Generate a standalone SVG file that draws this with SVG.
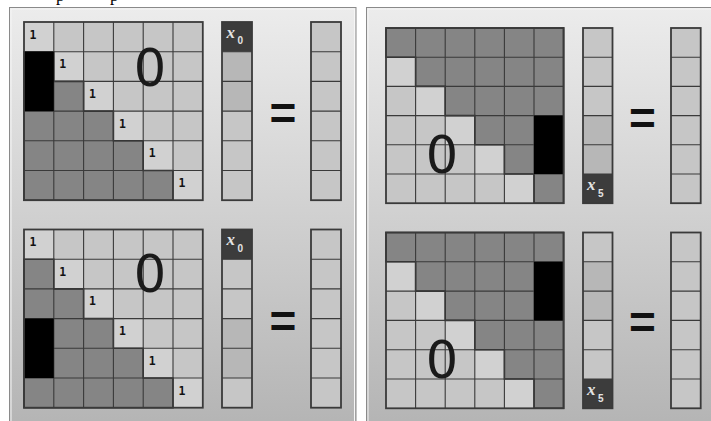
<svg xmlns="http://www.w3.org/2000/svg" width="711" height="421" viewBox="0 0 711 421">
<defs>
<linearGradient id="bg" x1="0" y1="0" x2="0" y2="1">
<stop offset="0" stop-color="#ececec"/>
<stop offset="1" stop-color="#b4b4b4"/>
</linearGradient>
<style>
.panel{fill:url(#bg);stroke:#8a8a8a;stroke-width:1}
.inner{fill:none;stroke:#f6f6f6;stroke-width:1}
.lt{fill:#c6c6c6}
.ld{fill:#d1d1d1}
.vd{fill:#b7b7b7}
.dk{fill:#858585;stroke:#2e2e2e;stroke-width:1.6}
.bk{fill:#000}
.grid{fill:none;stroke:#3a3a3a;stroke-width:1.1}
.box{fill:none;stroke:#3a3a3a;stroke-width:1.8}
.xc{fill:#3c3c3c}
.one{font-family:"DejaVu Sans Mono",monospace;font-weight:bold;font-size:11.5px;fill:#111}
.zero{font-family:"DejaVu Sans",sans-serif;font-size:51px;fill:#1a1a1a;text-anchor:middle}
.eq{font-family:"Liberation Sans",sans-serif;font-weight:bold;font-size:46px;fill:#111;text-anchor:middle}
.xv{font-family:"Liberation Serif",serif;font-weight:bold;font-style:italic;font-size:17px;fill:#e4e4e4}
.xs{font-family:"Liberation Sans",sans-serif;font-weight:bold;font-size:10px;fill:#e4e4e4}
.cut{font-family:"Liberation Serif",serif;font-size:17px;fill:#000}
</style>
</defs>
<rect width="711" height="421" fill="#fff"/>
<text class="cut" x="56" y="0.5">p</text>
<text class="cut" x="110" y="0.5">p</text>

<g id="panel-left">
<rect class="panel" x="9.5" y="7.5" width="346.5" height="420"/>
<rect class="inner" x="11" y="9" width="343.5" height="420"/>
</g>
<g id="panel-right">
<rect class="panel" x="366.5" y="7.5" width="360" height="420"/>
<rect class="inner" x="368" y="9" width="360" height="420"/>
</g>

<!-- Top-left matrix -->
<g id="matrix-tl">
<rect class="lt" x="24" y="22" width="178.8" height="178.2"/>
<rect class="ld" x="24" y="22" width="29.8" height="29.7"/>
<rect class="ld" x="53.8" y="51.7" width="29.8" height="29.7"/>
<rect class="ld" x="83.6" y="81.4" width="29.8" height="29.7"/>
<rect class="ld" x="113.4" y="111.1" width="29.8" height="29.7"/>
<rect class="ld" x="143.2" y="140.8" width="29.8" height="29.7"/>
<rect class="ld" x="173" y="170.5" width="29.8" height="29.7"/>
<path class="dk" d="M24,51.7H53.8V81.4H83.6V111.1H113.4V140.8H143.2V170.5H173V200.2H24Z"/>
<path class="grid" d="M53.8,22V200.2M83.6,22V200.2M113.4,22V200.2M143.2,22V200.2M173,22V200.2M24,51.7H202.8M24,81.4H202.8M24,111.1H202.8M24,140.8H202.8M24,170.5H202.8"/>
<rect class="bk" x="24" y="51.7" width="29.8" height="59.4"/>
<rect class="box" x="24" y="22" width="178.8" height="178.2"/>
<text class="one" x="29.5" y="38.5">1</text>
<text class="one" x="59.3" y="68.2">1</text>
<text class="one" x="89.1" y="97.9">1</text>
<text class="one" x="118.9" y="127.6">1</text>
<text class="one" x="148.7" y="157.3">1</text>
<text class="one" x="178.5" y="187">1</text>
<text class="zero" x="150" y="86">0</text>
</g>
<g id="vector-tl">
<rect class="lt" x="222" y="22" width="30" height="178.2"/>
<rect class="vd" x="222" y="51.7" width="30" height="59.4"/>
<rect class="xc" x="222" y="22" width="30" height="29.7"/>
<path class="grid" d="M222,51.7H252M222,81.4H252M222,111.1H252M222,140.8H252M222,170.5H252"/>
<rect class="box" x="222" y="22" width="30" height="178.2"/>
<text class="xv" x="226.5" y="37.5">x</text><text class="xs" x="237.5" y="44">0</text>
</g>
<g id="equals-tl"><text class="eq" x="283" y="129">=</text></g>
<g id="result-tl">
<rect class="lt" x="311" y="22" width="30" height="178.2"/>
<path class="grid" d="M311,51.7H341M311,81.4H341M311,111.1H341M311,140.8H341M311,170.5H341"/>
<rect class="box" x="311" y="22" width="30" height="178.2"/>
</g>

<!-- Bottom-left matrix -->
<g id="matrix-bl">
<rect class="lt" x="24" y="229.5" width="178.8" height="178.2"/>
<rect class="ld" x="24" y="229.5" width="29.8" height="29.7"/>
<rect class="ld" x="53.8" y="259.2" width="29.8" height="29.7"/>
<rect class="ld" x="83.6" y="288.9" width="29.8" height="29.7"/>
<rect class="ld" x="113.4" y="318.6" width="29.8" height="29.7"/>
<rect class="ld" x="143.2" y="348.3" width="29.8" height="29.7"/>
<rect class="ld" x="173" y="378" width="29.8" height="29.7"/>
<path class="dk" d="M24,259.2H53.8V288.9H83.6V318.6H113.4V348.3H143.2V378H173V407.7H24Z"/>
<path class="grid" d="M53.8,229.5V407.7M83.6,229.5V407.7M113.4,229.5V407.7M143.2,229.5V407.7M173,229.5V407.7M24,259.2H202.8M24,288.9H202.8M24,318.6H202.8M24,348.3H202.8M24,378H202.8"/>
<rect class="bk" x="24" y="318.6" width="29.8" height="59.4"/>
<rect class="box" x="24" y="229.5" width="178.8" height="178.2"/>
<text class="one" x="29.5" y="246">1</text>
<text class="one" x="59.3" y="275.7">1</text>
<text class="one" x="89.1" y="305.4">1</text>
<text class="one" x="118.9" y="335.1">1</text>
<text class="one" x="148.7" y="364.8">1</text>
<text class="one" x="178.5" y="394.5">1</text>
<text class="zero" x="150" y="292">0</text>
</g>
<g id="vector-bl">
<rect class="lt" x="222" y="229.5" width="30" height="178.2"/>
<rect class="vd" x="222" y="318.6" width="30" height="59.4"/>
<rect class="xc" x="222" y="229.5" width="30" height="29.7"/>
<path class="grid" d="M222,259.2H252M222,288.9H252M222,318.6H252M222,348.3H252M222,378H252"/>
<rect class="box" x="222" y="229.5" width="30" height="178.2"/>
<text class="xv" x="226.5" y="245">x</text><text class="xs" x="237.5" y="251.5">0</text>
</g>
<g id="equals-bl"><text class="eq" x="283" y="337">=</text></g>
<g id="result-bl">
<rect class="lt" x="311" y="229.5" width="30" height="178.2"/>
<path class="grid" d="M311,259.2H341M311,288.9H341M311,318.6H341M311,348.3H341M311,378H341"/>
<rect class="box" x="311" y="229.5" width="30" height="178.2"/>
</g>

<!-- Top-right matrix -->
<g id="matrix-tr">
<rect class="lt" x="386" y="28" width="177.6" height="175.2"/>
<rect class="ld" x="386" y="57.2" width="29.6" height="29.2"/>
<rect class="ld" x="415.6" y="86.4" width="29.6" height="29.2"/>
<rect class="ld" x="445.2" y="115.6" width="29.6" height="29.2"/>
<rect class="ld" x="474.8" y="144.8" width="29.6" height="29.2"/>
<rect class="ld" x="504.4" y="174" width="29.6" height="29.2"/>
<path class="dk" d="M386,28H563.6V203.2H534V174H504.4V144.8H474.8V115.6H445.2V86.4H415.6V57.2H386Z"/>
<path class="grid" d="M415.6,28V203.2M445.2,28V203.2M474.8,28V203.2M504.4,28V203.2M534,28V203.2M386,57.2H563.6M386,86.4H563.6M386,115.6H563.6M386,144.8H563.6M386,174H563.6"/>
<rect class="bk" x="534" y="115.6" width="29.6" height="58.4"/>
<rect class="box" x="386" y="28" width="177.6" height="175.2"/>
<text class="zero" x="442" y="173">0</text>
</g>
<g id="vector-tr">
<rect class="lt" x="583" y="28" width="29.5" height="175.2"/>
<rect class="vd" x="583" y="115.6" width="29.5" height="58.4"/>
<rect class="xc" x="583" y="174" width="29.5" height="29.2"/>
<path class="grid" d="M583,57.2H612.5M583,86.4H612.5M583,115.6H612.5M583,144.8H612.5M583,174H612.5"/>
<rect class="box" x="583" y="28" width="29.5" height="175.2"/>
<text class="xv" x="587" y="190">x</text><text class="xs" x="598" y="197">5</text>
</g>
<g id="equals-tr"><text class="eq" x="642.5" y="134">=</text></g>
<g id="result-tr">
<rect class="lt" x="671" y="28" width="29.7" height="175.2"/>
<path class="grid" d="M671,57.2H700.7M671,86.4H700.7M671,115.6H700.7M671,144.8H700.7M671,174H700.7"/>
<rect class="box" x="671" y="28" width="29.7" height="175.2"/>
</g>

<!-- Bottom-right matrix -->
<g id="matrix-br">
<rect class="lt" x="386" y="232.5" width="177.6" height="175.8"/>
<rect class="ld" x="386" y="261.8" width="29.6" height="29.3"/>
<rect class="ld" x="415.6" y="291.1" width="29.6" height="29.3"/>
<rect class="ld" x="445.2" y="320.4" width="29.6" height="29.3"/>
<rect class="ld" x="474.8" y="349.7" width="29.6" height="29.3"/>
<rect class="ld" x="504.4" y="379" width="29.6" height="29.3"/>
<path class="dk" d="M386,232.5H563.6V408.3H534V379H504.4V349.7H474.8V320.4H445.2V291.1H415.6V261.8H386Z"/>
<path class="grid" d="M415.6,232.5V408.3M445.2,232.5V408.3M474.8,232.5V408.3M504.4,232.5V408.3M534,232.5V408.3M386,261.8H563.6M386,291.1H563.6M386,320.4H563.6M386,349.7H563.6M386,379H563.6"/>
<rect class="bk" x="534" y="261.8" width="29.6" height="58.6"/>
<rect class="box" x="386" y="232.5" width="177.6" height="175.8"/>
<text class="zero" x="442" y="378">0</text>
</g>
<g id="vector-br">
<rect class="lt" x="583" y="232.5" width="29.5" height="175.8"/>
<rect class="vd" x="583" y="261.8" width="29.5" height="58.6"/>
<rect class="xc" x="583" y="379" width="29.5" height="29.3"/>
<path class="grid" d="M583,261.8H612.5M583,291.1H612.5M583,320.4H612.5M583,349.7H612.5M583,379H612.5"/>
<rect class="box" x="583" y="232.5" width="29.5" height="175.8"/>
<text class="xv" x="587" y="395">x</text><text class="xs" x="598" y="402">5</text>
</g>
<g id="equals-br"><text class="eq" x="642.5" y="338">=</text></g>
<g id="result-br">
<rect class="lt" x="671" y="232.5" width="29.7" height="175.8"/>
<path class="grid" d="M671,261.8H700.7M671,291.1H700.7M671,320.4H700.7M671,349.7H700.7M671,379H700.7"/>
<rect class="box" x="671" y="232.5" width="29.7" height="175.8"/>
</g>
<g id="connectors"/>
</svg>
